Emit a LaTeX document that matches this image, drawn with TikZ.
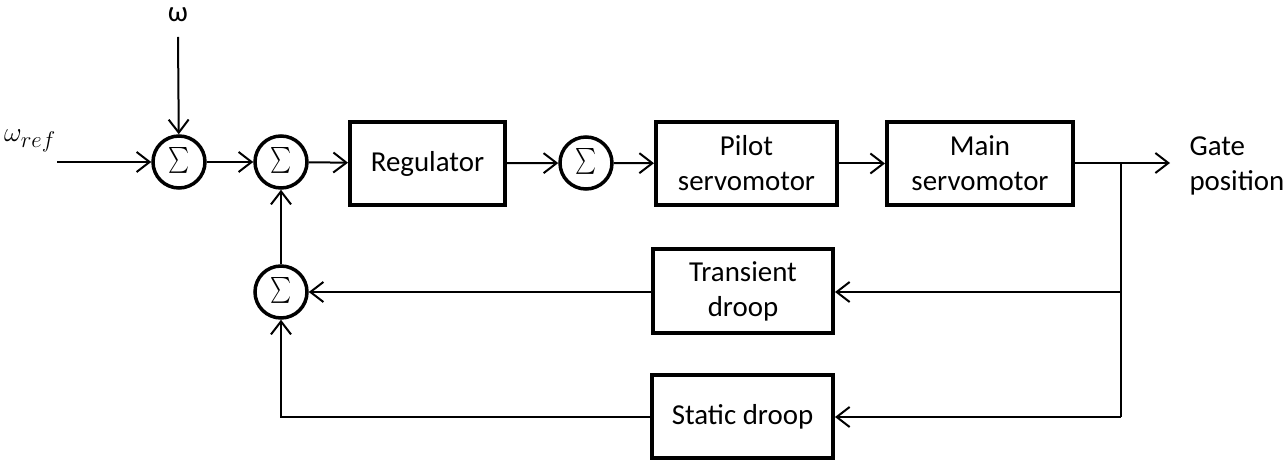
\documentclass[tikz,border=0pt]{standalone}
\usepackage{fontspec}
\usepackage{graphicx}
\setmainfont{Carlito}
\usetikzlibrary{arrows.meta}
\newcommand{\sumsym}{\scalebox{2.0}[2.6]{$\sum$}}
\begin{document}
\begin{tikzpicture}[x=1bp,y=-1bp,
  every node/.style={font=\fontsize{29}{35}\selectfont},
  blk/.style={draw,line width=4bp,minimum height=83bp,align=center,inner sep=0pt},
  sumnode/.style={draw,circle,line width=3.5bp,minimum size=52bp,inner sep=0pt},
  conn/.style={line width=2bp,-{Straight Barb[length=13bp,width=20bp,line width=2bp]}},
  plain/.style={line width=2bp}]
\useasboundingbox (0,0) rectangle (1283,460);
% summing junctions
\node[sumnode] (s1) at (179,162) {\sumsym};
\node[sumnode] (s2) at (281,162) {\sumsym};
\node[sumnode] (s3) at (586,163) {\sumsym};
\node[sumnode] (s4) at (281,292) {\sumsym};
% blocks
\node[blk,minimum width=155bp] (reg) at (427.5,163.5) {Regulator};
\node[blk,minimum width=181bp] (pil) at (746.5,163.5) {Pilot\\servomotor};
\node[blk,minimum width=186bp] (main) at (980,163.5) {Main\\servomotor};
\node[blk,minimum width=180bp,minimum height=84bp] (tr) at (743,291) {Transient\\droop};
\node[blk,minimum width=181bp] (st) at (742.5,416.5) {Static droop};
% labels
\node (w) at (178,15) {ω};
\node (wref) at (30,141) {\scalebox{1.1}{$\omega_{ref}$}};
\node[align=left,anchor=west] (gate) at (1186,166) {Gate\\position};
% coordinates
\coordinate (wtop) at (178,37);
\coordinate (win) at (57,162);
\coordinate (br) at (1121,163);
\coordinate (out) at (1170,163);
\coordinate (brt) at (1121,292);
\coordinate (brs) at (1121,417);
\coordinate (cs) at (281,417);
% connectors
\draw[conn] (wtop) -- (s1);
\draw[conn] (win) -- (s1);
\draw[conn] (s1) -- (s2);
\draw[conn] (s2) -- (reg);
\draw[conn] (reg) -- (s3);
\draw[conn] (s3) -- (pil);
\draw[conn] (pil) -- (main);
\draw[conn] (main.east |- br) -- (out);
\draw[plain] (br) -- (brs);
\draw[conn] (brt) -- (tr.east |- brt);
\draw[conn] (brs) -- (st.east |- brs);
\draw[conn] (tr.west |- s4) -- (s4);
\draw[conn] (st.west |- cs) -- (cs) -- (s4);
\draw[conn] (s4) -- (s2);
\end{tikzpicture}
\end{document}
